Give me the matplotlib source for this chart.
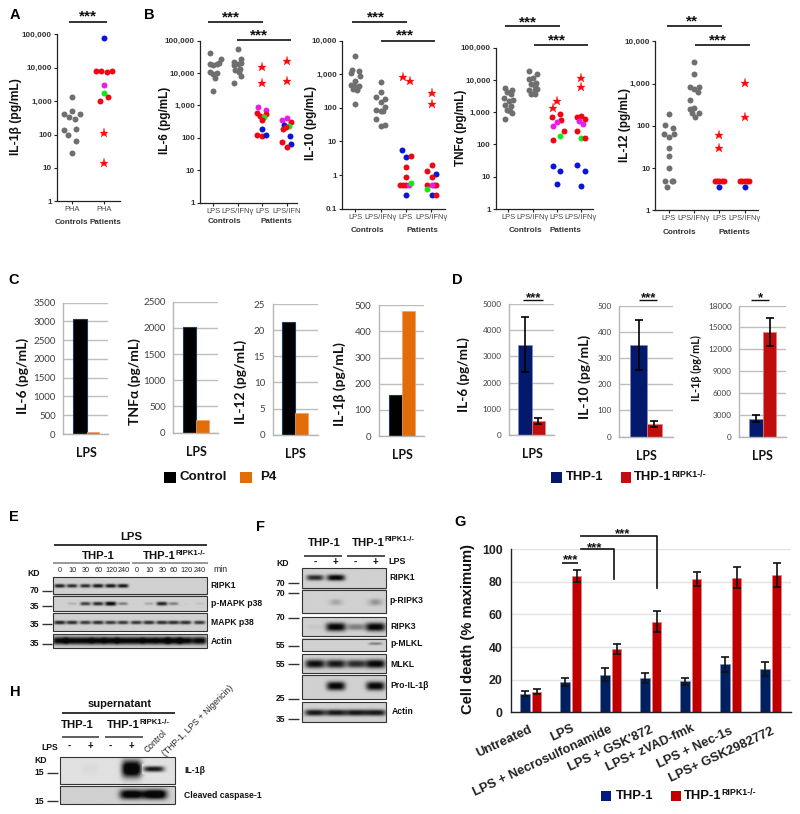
import numpy as np
import matplotlib
matplotlib.use('Agg')
import matplotlib.pyplot as plt

W, H = 800, 814
ARIAL = 'Liberation Sans'
CAL = 'Lato'
GRAY = '#6f6f6f'
COL = {'C': GRAY, 'R': '#ee0612', 'B': '#0a14d8', 'M': '#e81ee8', 'G': '#14e61e', 'S': '#ff0a0a'}

# ---------- Panel A
a_ctrl = [1300, 520, 400, 400, 340, 300, 140, 145, 98, 62, 28]
a_ctrl_j = [0, 0, -23, 23, -9, 8, -24, 11, -12, 11, -1]
a_pat = [76000, 8200, 7800, 7400, 8200, 3100, 1800, 1360, 1000, 110, 14]
a_pat_k = 'BRRRRMGRRSS'
a_pat_j = [0, -23, -7, 9, 25, 0, 0, 12, -12, 0, 0]

# ---------- Panel B: IL-6
il6_c1 = [41700, 20400, 27500, 19000, 17800, 19500, 11000, 9800, 9300, 7200, 2800]
il6_c1_j = [-11, 17, 23, -11, 0, 12, -10, 12, 0, 6, 0]
il6_c2 = [53700, 27500, 22400, 20000, 19000, 17800, 12300, 13800, 10700, 8100, 4900]
il6_c2_j = [0, 11, -12, 11, 0, -12, -7, 6, 5, 11, -12]
il6_p1 = [15500, 5000, 870, 590, 720, 560, 470, 450, 355, 195, 120, 115, 120]
il6_p1_k = 'SSMRMRRGRBRRB'
il6_p1_j = [0, 0, -12, -15, 11, 11, -7, 6, 0, 0, -15, 0, 12]
il6_p2 = [23400, 5750, 425, 345, 300, 255, 240, 220, 190, 115, 76, 63, 51]
il6_p2_k = 'SSMMRBGRRBRBR'
il6_p2_j = [0, 0, 0, -13, 12, -7, 6, -1, -12, 11, -13, 12, 0]

# ---------- Panel B: IL-10
il10_c1 = [3400, 1350, 1230, 1070, 890, 645, 490, 450, 450, 390, 360, 340, 132]
il10_c1_j = [0, -11, 12, -14, 14, 0, -14, 12, -3, 6, -6, 6, 0]
il10_c2 = [590, 300, 215, 180, 150, 110, 85, 81, 81, 46, 31, 28]
il10_c2_j = [0, 0, -13, 14, 0, 14, -13, 0, 8, -13, 14, 0]
il10_p1 = [810, 630, 5.4, 3.4, 3.8, 1.74, 0.87, 0.5, 0.5, 0.5, 0.5, 0.59, 0.26]
il10_p1_k = 'SSBBRRRRRRMGB'
il10_p1_j = [-10, 13, -12, 1, 15, 1, 1, -17, -8, 1, 8, 15, 1]
il10_p2 = [275, 129, 1.95, 1.35, 1.07, 0.87, 0.5, 0.5, 0.5, 0.5, 0.39, 0.26, 0.26]
il10_p2_k = 'SSRRBRRRRMGBR'
il10_p2_j = [1, 1, 1, -13, 14, 1, -13, 7, 14, 1, -13, 1, 14]

# ---------- Panel B: TNF
tnf_c1 = [5500, 4900, 4170, 3700, 2700, 2240, 2340, 1660, 1580, 1150, 1100, 950, 600]
tnf_c1_j = [-11, 11, -5, 7, -13, 1, 13, -11, 9, -5, 5, 11, -11]
tnf_c2 = [18600, 15500, 11500, 10700, 8300, 7400, 6500, 4900, 5100, 4800, 3700, 3700]
tnf_c2_j = [-12, 14, 1, -11, 11, -5, 6, -11, 14, 8, -5, 6]
tnf_p1 = [2240, 1350, 870, 690, 575, 500, 370, 257, 186, 135, 21, 15, 5.8]
tnf_p1_k = 'SSRRRMMRGRBBB'
tnf_p1_j = [1, -10, 11, -13, 14, 1, -10, 22, 11, -10, -10, 11, 1]
tnf_p2 = [11200, 6000, 780, 690, 537, 600, 417, 263, 158, 162, 23, 15.5, 5]
tnf_p2_k = 'SSRRMRMRGRBBB'
tnf_p2_j = [0, 0, 0, -12, -6, 11, 6, -13, 0, 13, -11, 11, 0]

# ---------- Panel B: IL-12
il12_c1 = [195, 102, 91, 65, 65, 55, 30, 19.5, 10, 5, 5, 5, 3.5]
il12_c1_j = [0, -11, 12, -13, 16, 0, 0, 0, 0, -11, 9, 13, -6]
il12_c2 = [3200, 1700, 810, 830, 740, 630, 410, 257, 250, 200, 200, 165]
il12_c2_j = [0, 0, -12, 14, 0, 11, -12, 0, -12, -6, 14, 3]
il12_p1 = [62, 30, 5, 5, 5, 5, 5, 3.5]
il12_p1_k = 'SSRRRRRB'
il12_p1_j = [0, 0, -14, -7, 0, 7, 14, 0]
il12_p2 = [1020, 160, 5, 5, 5, 5, 5, 3.5]
il12_p2_k = 'SSRRRRRB'
il12_p2_j = [0, 0, -14, -7, 0, 7, 14, 0]

# ---------- Panel C
c_names = ['IL-6 (pg/mL)', 'TNFα (pg/mL)', 'IL-12 (pg/mL)', 'IL-1β (pg/mL)']
c_control = [3060, 2010, 21.6, 155]
c_p4 = [65, 240, 4.1, 480]
c_ymax = [3500, 2500, 25, 500]
c_step = [500, 500, 5, 100]
c_legend = ['Control', 'P4']

# ---------- Panel D
d_names = ['IL-6 (pg/mL)', 'IL-10 (pg/mL)', 'IL-1β (pg/mL)']
d_thp = [3450, 350, 2450]
d_ko = [530, 48, 14350]
d_thp_err = [1060, 96, 470]
d_ko_err = [120, 13, 1900]
d_ymax = [5000, 500, 18000]
d_step = [1000, 100, 3000]
d_sig = ['***', '***', '*']

# ---------- Panel G
g_cats = ['Untreated', 'LPS', 'LPS + Necrosulfonamide', "LPS + GSK'872", 'LPS+ zVAD-fmk', 'LPS + Nec-1s', 'LPS+ GSK2982772']
g_thp = [11.5, 18.5, 23, 21, 19, 29.5, 26.5]
g_ko = [12.5, 83.5, 39, 55.5, 81.5, 82.5, 84]
g_thp_err = [1.8, 2.3, 4, 3, 2.3, 4.5, 4.3]
g_ko_err = [1.5, 3.5, 3, 6.5, 4.2, 6.5, 7.4]

# ---------- Blots (relative band strength per lane)
e_minutes = ['0', '10', '30', '60', '120', '240', '0', '10', '30', '60', '120', '240']
e_ripk1 = [.85, .8, .8, .9, .9, .9, 0, 0, 0, 0, 0, 0]
e_pmapk = [0, .15, .7, .8, 1, .4, 0, .2, .85, .4, .03, .08]
e_mapk = [.85, .8, .75, .8, .75, .75, .75, .8, .8, .8, .8, .75]
e_actin = [1] * 12
f_ripk1 = [.8, 1, 0, 0]
f_pripk3 = [0, .2, 0, .3]
f_ripk3 = [.05, 1, .4, 1]
f_pmlkl = [0, 0, 0, .4]
f_mlkl = [.95, .9, .8, 1]
f_proil = [0, 1, 0, 1]
f_actin = [.9, .9, .9, .9]
h_il1 = [0, .03, 0, 1.2, .9]
h_casp = [0, 0, 0, 1.1, 1.2]

fig = plt.figure(figsize=(W / 100, H / 100), dpi=100, facecolor='white')


def add_ax(l, t, r, b, **kw):
    return fig.add_axes([l / W, 1 - b / H, (r - l) / W, (b - t) / H], **kw)


ov = fig.add_axes([0, 0, 1, 1], zorder=20)
ov.set_xlim(0, W)
ov.set_ylim(H, 0)
ov.axis('off')
ov.patch.set_alpha(0)


def txt(x, y, s, size=6, bold=True, fam=ARIAL, color='#111111', ha='center', va='center', rot=0, **kw):
    ov.text(x, y, s, fontsize=size, fontweight='bold' if bold else 'normal', family=fam, color=color,
            ha=ha, va=va, rotation=rot, rotation_mode='anchor', **kw)


def line(x0, y0, x1, y1, lw=1.2, color='#111111'):
    ov.plot([x0, x1], [y0, y1], color=color, lw=lw, solid_capstyle='butt')


def stars(x, y, s, size=11):
    ov.text(x, y + 0.45 * size * 1.389, s, fontsize=size, fontweight='bold', family=ARIAL,
            color='#111111', ha='center', va='baseline')


def thp_ko(x, y, size=8.5, supsize=6.2, gap=-0.5):
    t = ov.text(x, y, 'THP-1', fontsize=size, fontweight='bold', family=ARIAL, color='#111111', ha='left', va='center')
    fig.canvas.draw()
    bb = t.get_window_extent()
    ov.text(bb.x1 + gap, y - size * 0.36, 'RIPK1-/-', fontsize=supsize, fontweight='bold', family=ARIAL,
            color='#111111', ha='left', va='center')


def dots(ax, cat, vals, jit, kinds, sp):
    for v, j, k in zip(vals, jit, kinds):
        x = cat + j / sp
        if k == 'S':
            ax.plot([x], [v], marker='*', ms=6.8, color=COL['S'], mec=COL['S'], mew=0.2, ls='none', clip_on=False)
        else:
            ax.plot([x], [v], marker='o', ms=4.3, color=COL[k], mec=COL[k], mew=0, ls='none', clip_on=False)


def logaxis(l, t, r, b, ymin, ymax, cat0, sp, cats):
    ax = add_ax(l, t, r, b)
    ax.set_yscale('log')
    ax.set_ylim(ymin, ymax)
    ax.set_xlim((l - cat0) / sp, (r - cat0) / sp)
    exps = np.arange(round(np.log10(ymin)), round(np.log10(ymax)) + 1)
    ticks = [10.0 ** e for e in exps]
    ax.set_yticks(ticks)
    ax.set_yticklabels([('%g' % v) if v < 1 else format(int(v), ',') for v in ticks],
                       fontsize=5.9, fontweight='bold', family=ARIAL, color='#333333')
    ax.minorticks_off()
    ax.set_xticks(range(len(cats)))
    ax.set_xticklabels(cats, fontsize=5.4, family=ARIAL, color='#444444')
    ax.tick_params(axis='both', length=2.2, width=0.8, pad=1.5, color='#222222')
    for s in ('top', 'right'):
        ax.spines[s].set_visible(False)
    for s in ('left', 'bottom'):
        ax.spines[s].set_linewidth(0.9)
        ax.spines[s].set_color('#222222')
    ax.patch.set_alpha(0)
    return ax


# Panel A
ax = logaxis(57, 34.3, 120, 201.3, 1, 1e5, 72.1, 31.5, ['PHA', 'PHA'])
spA = 95
dots(ax, 0, a_ctrl, a_ctrl_j, 'C' * 11, spA)
dots(ax, 1, a_pat, a_pat_j, a_pat_k, spA)
txt(16, 117, 'IL-1β (pg/mL)', 8.7, rot=90)
txt(71, 222.3, 'Controls', 5.9, color='#333333')
txt(105.5, 222.3, 'Patients', 5.9, color='#333333')
line(69, 22.3, 106.7, 22.3)
stars(87.7, 14, '***')

# Panel B
LBL = ['LPS', 'LPS/IFNγ', 'LPS', 'LPS/IFNγ']
panels = [
    dict(rect=(200, 40.7, 297, 202.7), lim=(1, 1e5), c0=640 / 3, sp=24.4, lbl=['LPS', 'LPS/IFNγ', 'LPS', 'LPS/IFN'],
         g=[(il6_c1, il6_c1_j, 'C' * 20), (il6_c2, il6_c2_j, 'C' * 20), (il6_p1, il6_p1_j, il6_p1_k), (il6_p2, il6_p2_j, il6_p2_k)]),
    dict(rect=(342, 40.7, 445, 208.7), lim=(0.1, 1e4), c0=1066 / 3, sp=25.3, lbl=LBL,
         g=[(il10_c1, il10_c1_j, 'C' * 20), (il10_c2, il10_c2_j, 'C' * 20), (il10_p1, il10_p1_j, il10_p1_k), (il10_p2, il10_p2_j, il10_p2_k)]),
    dict(rect=(495.7, 47.7, 593.3, 209), lim=(1, 1e5), c0=400 + 325 / 3, sp=24.2, lbl=LBL,
         g=[(tnf_c1, tnf_c1_j, 'C' * 20), (tnf_c2, tnf_c2_j, 'C' * 20), (tnf_p1, tnf_p1_j, tnf_p1_k), (tnf_p2, tnf_p2_j, tnf_p2_k)]),
    dict(rect=(655.3, 41.3, 757.7, 210.3), lim=(1, 1e4), c0=400 + 806 / 3, sp=25.3, lbl=LBL,
         g=[(il12_c1, il12_c1_j, 'C' * 20), (il12_c2, il12_c2_j, 'C' * 20), (il12_p1, il12_p1_j, il12_p1_k), (il12_p2, il12_p2_j, il12_p2_k)]),
]
for p in panels:
    ax = logaxis(*p['rect'], *p['lim'], p['c0'], p['sp'], p['lbl'])
    for i, (v, j, k) in enumerate(p['g']):
        dots(ax, i, v, j, k, p['sp'] * 3)

txt(165, 120.7, 'IL-6 (pg/mL)', 8.5, rot=90)
txt(310.7, 123.3, 'IL-10 (pg/mL)', 8.5, rot=90)
txt(460.7, 128.3, 'TNFα (pg/mL)', 8.5, rot=90)
txt(625.3, 125, 'IL-12 (pg/mL)', 8.5, rot=90)
for x, y, s in [(224, 221.3, 'Controls'), (276.7, 221.3, 'Patients'), (367.7, 230, 'Controls'), (422.3, 230, 'Patients'),
                (525, 230.7, 'Controls'), (565, 230.7, 'Patients'), (679.3, 232.7, 'Controls'), (734.7, 232.7, 'Patients')]:
    txt(x, y, s, 5.9, color='#333333')

for x0, x1, y, sx, sy, s in [(208.3, 262.7, 22.3, 231, 14.7, '***'), (236.7, 290.7, 40.3, 259.3, 32.3, '***'),
                             (352.3, 406.7, 22.3, 375.7, 14.7, '***'), (380.7, 435, 40.7, 405, 32.3, '***'),
                             (505.3, 560, 26.3, 528.3, 19.3, '***'), (533.7, 588, 44.7, 556.7, 37.3, '***'),
                             (667, 721.7, 26.3, 691.7, 19, '**'), (695.3, 749.7, 44.7, 718.3, 37.3, '***')]:
    line(x0, y, x1, y)
    stars(sx, sy, s)


def bar_axis(l, t, r, b, ymax, step, tick_size=7):
    ax = add_ax(l, t, r, b)
    ax.set_ylim(0, ymax)
    ax.set_xlim(0, r - l)
    ax.set_yticks(np.arange(0, ymax + step / 2, step))
    ax.tick_params(axis='y', length=0, pad=5.5, labelsize=tick_size, labelcolor='#404040')
    for lab in ax.get_yticklabels():
        lab.set_family(CAL)
    ax.set_xticks([])
    ax.grid(axis='y', color='#bdbdbd', lw=1.0)
    ax.set_axisbelow(True)
    for s in ('top', 'right'):
        ax.spines[s].set_visible(False)
    for s in ('left', 'bottom'):
        ax.spines[s].set_color('#b5b5b5')
        ax.spines[s].set_linewidth(1.0)
    ax.patch.set_alpha(0)
    return ax


# Panel C
c_rects = [(190, 113, 325, 507, 220, 260, 298), (520, 110, 655, 503, 548, 589, 627),
           (818, 117, 953, 509, 846, 886, 925), (1137, 121, 1272, 513, 1166, 1206, 1244)]
for i, r in enumerate(c_rects):
    l, t, rr, b, x0, x1, x2 = r
    ax = bar_axis(l / 3, 265 + t / 3, rr / 3, 265 + b / 3, c_ymax[i], c_step[i])
    ax.bar([(x0 + x1) / 6 - l / 3], [c_control[i]], width=(x1 - x0) / 3, color='black', edgecolor='#1f3864', lw=0.8)
    ax.bar([(x1 + x2) / 6 - l / 3], [c_p4[i]], width=(x2 - x1) / 3, color='#e36c0a', edgecolor='#f0a060', lw=0.5)
    txt((x1) / 3, 265 + (b + 58) / 3, 'LPS', 9, fam=CAL)
for (x, y), s in zip([(68 / 3, 265 + 332 / 3), (403 / 3, 265 + 350 / 3), (723 / 3, 265 + 350 / 3), (1020 / 3, 265 + 357 / 3)], c_names):
    txt(x, y, s, 10, fam=CAL, rot=90)
ov.add_patch(plt.Rectangle((164.3, 472.3), 11.5, 11, color='black', lw=0))
txt(180, 477.5, c_legend[0], 9.6, ha='left')
ov.add_patch(plt.Rectangle((240, 472.3), 11.7, 11, color='#e36c0a', lw=0))
txt(260.5, 477.5, c_legend[1], 9.6, ha='left')

# Panel D
d_rects = [(238, 117, 373, 510, 265, 306, 345), (568, 122, 730, 515, 601, 650, 695), (928, 122, 1068, 515, 957, 999, 1038)]
dox = 430
for i, r in enumerate(d_rects):
    l, t, rr, b, x0, x1, x2 = r
    ax = bar_axis(dox + l / 3, 265 + t / 3, dox + rr / 3, 265 + b / 3, d_ymax[i], d_step[i], tick_size=5.9)
    xa, xb = (x0 + x1) / 6 - l / 3, (x1 + x2) / 6 - l / 3
    ax.bar([xa], [d_thp[i]], width=(x1 - x0) / 3, color='#03196e', edgecolor='#7f8fc0', lw=0.5)
    ax.bar([xb], [d_ko[i]], width=(x2 - x1) / 3, color='#c00d0d', edgecolor='#e08080', lw=0.5)
    ax.errorbar([xa, xb], [d_thp[i], d_ko[i]], yerr=[d_thp_err[i], d_ko_err[i]], fmt='none', ecolor='black',
                elinewidth=1.2, capsize=2.6, capthick=1.2)
for x, y, s, fs in [(100, 330, d_names[0], 9.8), (465, 335, d_names[1], 10), (798, 308, d_names[2], 7.8)]:
    txt(dox + x / 3, 265 + y / 3, s, fs, fam=CAL, rot=90)
for x, y in [(306, 567), (650, 573), (998, 573)]:
    txt(dox + x / 3, 265 + y / 3, 'LPS', 9, fam=CAL)
for x0, x1, y, sx, sy, s in [(280, 338, 104, 310, 90, d_sig[0]), (628, 682, 106, 655, 92, d_sig[1]), (962, 1018, 106, 990, 90, d_sig[2])]:
    line(dox + x0 / 3, 265 + y / 3, dox + x1 / 3, 265 + y / 3, lw=1.0)
    stars(dox + sx / 3, 265 + sy / 3, s, 9.5)
ov.add_patch(plt.Rectangle((dox + 121, 472.3), 10.7, 10.7, color='#03196e', lw=0))
txt(dox + 136, 477.5, 'THP-1', 9.4, ha='left')
ov.add_patch(plt.Rectangle((dox + 190.7, 472.3), 10.3, 10.7, color='#c00d0d', lw=0))
thp_ko(dox + 204, 477.5, size=9.4, supsize=6.4)

# Panel G
gx, gy = 440, 505
ax = add_ax(gx + 213 / 3, gy + 132 / 3, gx + 1052 / 3, gy + 622 / 3)
x = np.arange(7)
ax.set_xlim(-0.5, 6.5)
ax.set_ylim(0, 100)
ax.bar(x - 0.146, g_thp, 0.233, color='#002060', edgecolor='#8090b8', lw=0.4)
ax.bar(x + 0.146, g_ko, 0.233, color='#c00000', edgecolor='#e08080', lw=0.4)
ax.errorbar(x - 0.146, g_thp, yerr=g_thp_err, fmt='none', ecolor='#111111', elinewidth=1.2, capsize=2.6, capthick=1.2)
ax.errorbar(x + 0.146, g_ko, yerr=g_ko_err, fmt='none', ecolor='#111111', elinewidth=1.2, capsize=2.6, capthick=1.2)
ax.set_yticks(range(0, 101, 20))
ax.set_yticklabels([str(v) for v in range(0, 101, 20)], fontsize=8.9, fontweight='bold', family=ARIAL, color='#222222')
ax.set_xticks([])
ax.tick_params(axis='y', length=0, pad=6)
ax.grid(axis='y', color='#e2e2e2', lw=1.0)
ax.set_axisbelow(True)
for s in ('top', 'right'):
    ax.spines[s].set_visible(False)
for s in ('left', 'bottom'):
    ax.spines[s].set_color('#222222')
    ax.spines[s].set_linewidth(1.0)
ax.patch.set_alpha(0)
txt(gx + 84 / 3, gy + 372 / 3, 'Cell death (% maximum)', 10.6, rot=90)
for s, (xe, ye) in zip(g_cats, [(275, 672), (400, 667), (515, 672), (636, 672), (760, 667), (875, 677), (1000, 677)]):
    txt(gx + xe / 3, gy + ye / 3, s, 9.3, ha='right', va='center', rot=25, color='#222222')
line(gx + 367 / 3, gy + 175 / 3, gx + 415 / 3, gy + 175 / 3)
stars(gx + 391 / 3, gy + 158 / 3, '***', 9.5)
ov.plot([gx + 423 / 3, gx + 522 / 3, gx + 522 / 3], [gy + 132 / 3, gy + 132 / 3, gy + 222 / 3], color='#111111', lw=1.2)
stars(gx + 465 / 3, gy + 120 / 3, '***', 9.5)
ov.plot([gx + 423 / 3, gx + 650 / 3, gx + 650 / 3], [gy + 92 / 3, gy + 92 / 3, gy + 250 / 3], color='#111111', lw=1.2)
stars(gx + 547 / 3, gy + 78 / 3, '***', 9.5)
ov.add_patch(plt.Rectangle((gx + 161, gy + 286), 10, 10, color='#001a80', lw=0))
txt(gx + 176, gy + 291, 'THP-1', 9.4, ha='left')
ov.add_patch(plt.Rectangle((gx + 230.7, gy + 286), 10, 10, color='#c00000', lw=0))
thp_ko(gx + 244, gy + 291, size=9.4, supsize=6.4)


# Blots
def blot(ox, oy, x0, y0, x1, y1, lanes, yc, vals, bw, bh, bg=0.82, edge=True, power=4):
    xs = np.linspace(x0, x1, int((x1 - x0) * 1.5))
    ys = np.linspace(y0, y1, max(int((y1 - y0) * 1.5), 4))
    X, Y = np.meshgrid(xs, ys)
    im = np.full(X.shape, bg, float)
    for lx, v in zip(lanes, vals):
        if v <= 0:
            continue
        w = bw * (0.75 + 0.25 * min(v, 1))
        h = bh * (0.6 + 0.4 * min(v, 1))
        im -= v * bg * np.exp(-np.abs((X - lx) / w) ** power) * np.exp(-np.abs((Y - yc) / h) ** 2.5)
    im = np.clip(im, 0.03, 1)
    ov.imshow(im, cmap='gray', vmin=0, vmax=1, aspect='auto', interpolation='bilinear', zorder=1,
              extent=(ox + x0 / 3, ox + x1 / 3, oy + y1 / 3, oy + y0 / 3))
    if edge:
        ov.add_patch(plt.Rectangle((ox + x0 / 3, oy + y0 / 3), (x1 - x0) / 3, (y1 - y0) / 3, fill=False,
                                   ec='#333333', lw=0.8, zorder=2))


def kd(ox, oy, x, y, s, d0, d1, size=6.2):
    txt(ox + x / 3, oy + y / 3, s, size)
    line(ox + d0 / 3, oy + y / 3, ox + d1 / 3, oy + y / 3, lw=1.0, color='#333333')


# Panel E
ex, ey = 0, 500
eL = [180, 217, 257, 295, 333, 370, 410, 448, 487, 522, 558, 600]
blot(ex, ey, 160, 232, 622, 282, eL, 258, e_ripk1, 17, 6)
blot(ex, ey, 160, 287, 622, 333, eL, 312, e_pmapk, 17, 6)
blot(ex, ey, 160, 340, 622, 393, eL, 368, e_mapk, 18, 6)
blot(ex, ey, 160, 403, 622, 445, eL, 423, e_actin, 22, 12)
txt(393 / 3, ey + 112 / 3, 'LPS', 8.2)
line(163 / 3, ey + 135 / 3, 622 / 3, ey + 135 / 3)
txt(296 / 3, ey + 168 / 3, 'THP-1', 8.2)
thp_ko(429 / 3, ey + 168 / 3, size=8.2, supsize=5.6)
line(160 / 3, ey + 190 / 3, 390 / 3, ey + 190 / 3, color='#888888')
line(396 / 3, ey + 190 / 3, 625 / 3, ey + 190 / 3, color='#888888')
for lx, s in zip(eL, e_minutes):
    txt(lx / 3, ey + 211 / 3, s, 5.2, bold=False, color='#222222')
txt(660 / 3, ey + 210 / 3, 'min', 6.2, bold=False, color='#222222')
txt(100 / 3, ey + 219 / 3, 'KD', 6.2)
kd(ex, ey, 104, 272, '70', 125, 155)
kd(ex, ey, 104, 319, '35', 125, 155)
kd(ex, ey, 104, 373, '35', 125, 155)
kd(ex, ey, 104, 431, '35', 125, 155)
for y, s in [(255, 'RIPK1'), (310, 'p-MAPK p38'), (367, 'MAPK p38'), (425, 'Actin')]:
    txt(632 / 3, ey + y / 3, s, 6.2, ha='left')

# Panel F
fx, fy = 240, 505
fL = [225, 287, 347, 405]
x0f, x1f = 186, 439
blot(fx, fy, x0f, 190, x1f, 248, fL, 218, f_ripk1, 27, 9)
blot(fx, fy, x0f, 254, x1f, 325, fL, 293, f_pripk3, 24, 14, power=2)
blot(fx, fy, x0f, 335, x1f, 392, fL, 365, f_ripk3, 30, 13)
blot(fx, fy, x0f, 401, x1f, 438, fL, 417, f_pmlkl, 24, 5)
blot(fx, fy, x0f, 448, x1f, 504, fL, 477, f_mlkl, 30, 13)
blot(fx, fy, x0f, 511, x1f, 581, fL, 543, f_proil, 28, 13)
blot(fx, fy, x0f, 590, x1f, 650, fL, 622, f_actin, 32, 10)
txt(fx + 253 / 3, fy + 113 / 3, 'THP-1', 8.2)
thp_ko(fx + 336 / 3, fy + 113 / 3, size=8.2, supsize=5.6)
line(fx + 193 / 3, fy + 152 / 3, fx + 307 / 3, fy + 152 / 3, color='#333333')
line(fx + 322 / 3, fy + 152 / 3, fx + 436 / 3, fy + 152 / 3, color='#333333')
txt(fx + 127 / 3, fy + 177 / 3, 'KD', 6.2)
for lx, s in zip(fL, ['-', '+', '-', '+']):
    txt(fx + lx / 3, fy + 170 / 3, s, 7)
txt(fx + 470 / 3, fy + 170 / 3, 'LPS', 6.4)
for y, s in [(234, '70'), (264, '70'), (338, '70'), (422, '55'), (478, '55'), (581, '25'), (642, '35')]:
    kd(fx, fy, 122, y, s, 145, 177)
for xx, y, s in [(448, 219, 'RIPK1'), (448, 286, 'p-RIPK3'), (450, 365, 'RIPK3'), (450, 417, 'p-MLKL'), (450, 478, 'MLKL'),
                 (451, 543, 'Pro-IL-1β'), (454, 618, 'Actin')]:
    txt(fx + xx / 3, fy + y / 3, s, 6.2, ha='left')

# Panel H
hx, hy = 0, 660
hL = [208, 270, 330, 395, 465]
blot(hx, hy, 180, 292, 525, 372, hL, 327, h_il1[:4] + [0], 30, 26, bg=0.88)
# narrow band of the control lane drawn over the same blot
blot(hx, hy, 425, 312, 505, 342, [460], 327, [h_il1[4]], 32, 9, bg=0.88, edge=False)
blot(hx, hy, 180, 378, 525, 432, hL, 403, h_casp, 36, 15, bg=0.82)
txt(360 / 3, hy + 133 / 3, 'supernatant', 8)
line(185 / 3, hy + 158 / 3, 525 / 3, hy + 158 / 3)
txt(232 / 3, hy + 195 / 3, 'THP-1', 8.2)
thp_ko(322 / 3, hy + 195 / 3, size=8.2, supsize=5.6)
line(185 / 3, hy + 230 / 3, 298 / 3, hy + 230 / 3, color='#444444')
line(315 / 3, hy + 230 / 3, 428 / 3, hy + 230 / 3, color='#444444')
txt(150 / 3, hy + 262 / 3, 'LPS', 6.2)
for lx, s in zip(hL[:4], ['-', '+', '-', '+']):
    txt(lx / 3, hy + 258 / 3, s, 7)
txt(437 / 3, hy + 275 / 3, 'Control', 6.2, bold=False, ha='left', rot=45, color='#222222')
txt(490 / 3, hy + 283 / 3, '(THP-1, LPS + Nigericin)', 6.2, bold=False, ha='left', rot=45, color='#222222')
txt(122 / 3, hy + 302 / 3, 'KD', 6.2)
kd(hx, hy, 118, 338, '15', 142, 173)
kd(hx, hy, 118, 424, '15', 142, 173)
txt(552 / 3, hy + 332 / 3, 'IL-1β', 6.2, ha='left')
txt(552 / 3, hy + 407 / 3, 'Cleaved caspase-1', 6.2, ha='left')

# Panel letters
for x, y, s in [(14.5, 15, 'A'), (149.5, 15, 'B'), (14, 280, 'C'), (457.5, 280, 'D'), (14, 517, 'E'), (260.5, 527, 'F'),
                (460, 522, 'G'), (15, 692, 'H')]:
    txt(x, y, s, 10.5, color='black')

ov.set_xlim(0, W)
ov.set_ylim(H, 0)
fig.savefig('out.png', dpi=100)
